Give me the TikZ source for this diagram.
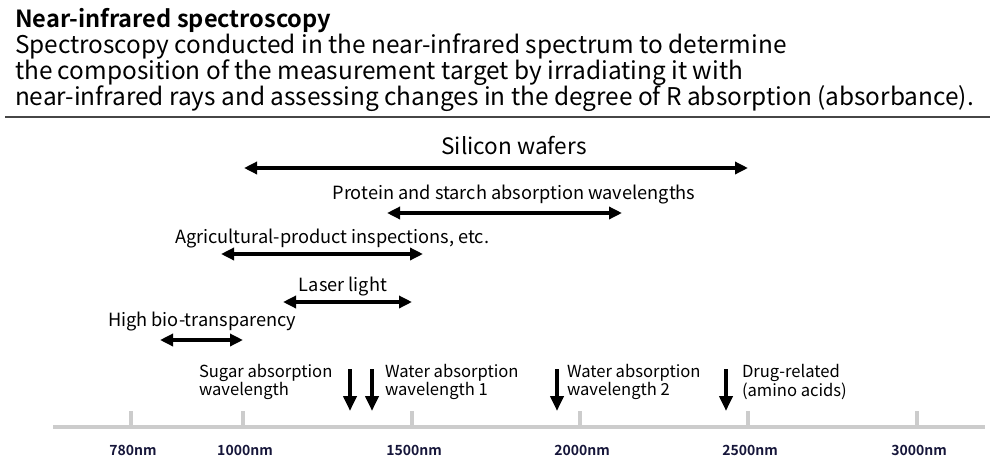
\documentclass[tikz,border=0pt]{standalone}
\usepackage{fontspec}
\setmainfont{Noto Sans CJK JP}[BoldFont={Noto Sans CJK JP Bold}]
\usetikzlibrary{arrows.meta}
\definecolor{axisgray}{RGB}{204,204,204}
\definecolor{ticknavy}{RGB}{22,22,58}
\definecolor{rulegray}{RGB}{70,70,70}

\begin{document}
\begin{tikzpicture}[
		x=1pt, y=-1pt,
		every node/.style={inner sep=0pt, outer sep=0pt},
		spanarrow/.style={line width=4pt, {Triangle[length=13pt,width=12pt]}-{Triangle[length=13pt,width=12pt]}},
		dropline/.style={line width=4pt, -{Triangle[length=15pt,width=13pt]}},
		axisline/.style={axisgray, line width=4pt},
		rangelabel/.style={font=\fontsize{18.2}{18.2}\selectfont},
		droplabel/.style={anchor=west, align=left, font=\fontsize{16.6}{14.5}\selectfont},
		ticklabel/.style={text=ticknavy, font=\fontsize{14}{14}\selectfont\bfseries}
	]
  \useasboundingbox (0,0) rectangle (993,461);
  \node (title) [anchor=base west, font=\fontsize{23.6}{23.6}\selectfont\bfseries] at (15,27) {Near-infrared spectroscopy};
  \node (desc_a) [anchor=base west, font=\fontsize{24.4}{24.4}\selectfont] at (15,53) {Spectroscopy conducted in the near-infrared spectrum to determine};
  \node (desc_b) [anchor=base west, font=\fontsize{24.4}{24.4}\selectfont] at (15,79) {the composition of the measurement target by irradiating it with};
  \node (desc_c) [anchor=base west, font=\fontsize{24.4}{24.4}\selectfont] at (15,105) {near-infrared rays and assessing changes in the degree of R absorption (absorbance).};
  \coordinate (rule_l) at (5,117);
  \coordinate (rule_r) at (990,117);
  \draw [rulegray, line width=1.5pt] (rule_l) -- (rule_r);

  \node (silicon) [font=\fontsize{22.6}{22.6}\selectfont] at (514,146) {Silicon wafers};
  \coordinate (silicon_l) at (244,168);
  \coordinate (silicon_r) at (748,168);
  \draw [spanarrow] (silicon_l) -- (silicon_r);
  \node (protein) [rangelabel] at (514,194.5) {Protein and starch absorption wavelengths};
  \coordinate (protein_l) at (387,213);
  \coordinate (protein_r) at (622,213);
  \draw [spanarrow] (protein_l) -- (protein_r);
  \node (agri) [rangelabel, anchor=west] at (175,238.5) {Agricultural-product inspections, etc.};
  \coordinate (agri_l) at (221,254);
  \coordinate (agri_r) at (423,254);
  \draw [spanarrow] (agri_l) -- (agri_r);
  \node (laser) [rangelabel] at (343,286.5) {Laser light};
  \coordinate (laser_l) at (283,302);
  \coordinate (laser_r) at (412,302);
  \draw [spanarrow] (laser_l) -- (laser_r);
  \node (bio) [rangelabel, anchor=west] at (108,321.5) {High bio-transparency};
  \coordinate (bio_l) at (160,340);
  \coordinate (bio_r) at (243,340);
  \draw [spanarrow] (bio_l) -- (bio_r);

  \node (sugar) [droplabel] at (199,382) {Sugar absorption\\wavelength};
  \node (water_a) [droplabel] at (385,382) {Water absorption\\wavelength 1};
  \node (water_b) [droplabel] at (567,382) {Water absorption\\wavelength 2};
  \node (drug) [droplabel] at (742,382) {Drug-related\\(amino acids)};
  \foreach \name/\xpos in {drop_a/350, drop_b/372, drop_c/557, drop_d/726} {
    \coordinate (\name_top) at (\xpos,369);
    \coordinate (\name_end) at (\xpos,411);
    \draw [dropline] (\name_top) -- (\name_end);
  }

  \coordinate (axis_l) at (53,427);
  \coordinate (axis_r) at (985,427);
  \draw [axisline] (axis_l) -- (axis_r);
  \foreach \name/\xpos/\txt in {t780/131/780nm, t1000/243/1000nm, t1500/412/1500nm, t2000/580/2000nm, t2500/748/2500nm, t3000/917/3000nm} {
    \coordinate (\name) at (\xpos,427);
    \coordinate (\name_up) at (\xpos,411);
    \draw [axisline] (\name) -- (\name_up);
    \node (\name_lbl) [ticklabel] at (\xpos+2,450) {\txt};
  }
\end{tikzpicture}
\end{document}
